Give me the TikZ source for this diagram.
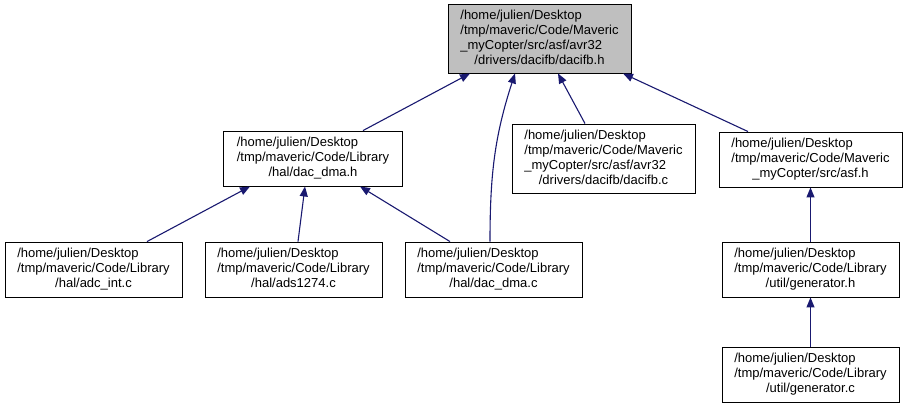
\documentclass[tikz,border=0pt]{standalone}
\usepackage{fontspec}
\setmainfont{Liberation Sans}
\usetikzlibrary{arrows.meta}
\definecolor{edgec}{HTML}{191970}
\definecolor{topfill}{HTML}{BFBFBF}
\newcommand\flines[2]{\begin{tabular}{@{}l@{}}#1\\\multicolumn{1}{@{}c@{}}{#2}\end{tabular}}
\begin{document}
\begin{tikzpicture}[x=1pt,y=1pt,
  box/.style={draw=black, line width=0.9pt, fill=white, inner sep=0pt,
    font=\fontsize{13}{15}\selectfont, minimum height=55pt, minimum width=177pt},
  dep/.style={draw=edgec, line width=1.1pt, -{Triangle[length=10pt,width=8pt]}}]
\useasboundingbox (0,0) rectangle (907,-408);
\node[box, fill=topfill, minimum width=183pt, minimum height=69pt] (top) at (539.5,-38.5)
  {\flines{/home/julien/Desktop\\/tmp/maveric/Code/Maveric\\\_myCopter/src/asf/avr32}{/drivers/dacifb/dacifb.h}};
\node[box, minimum width=179pt] (dmah) at (313,-158.5)
  {\flines{/home/julien/Desktop\\/tmp/maveric/Code/Library}{/hal/dac\_dma.h}};
\node[box, minimum width=183pt, minimum height=69pt] (dacifbc) at (603.5,-158.5)
  {\flines{/home/julien/Desktop\\/tmp/maveric/Code/Maveric\\\_myCopter/src/asf/avr32}{/drivers/dacifb/dacifb.c}};
\node[box, minimum width=183pt] (asfh) at (810.5,-159.5)
  {\flines{/home/julien/Desktop\\/tmp/maveric/Code/Maveric}{\_myCopter/src/asf.h}};
\node[box] (adcint) at (93.5,-269.5)
  {\flines{/home/julien/Desktop\\/tmp/maveric/Code/Library}{/hal/adc\_int.c}};
\node[box] (ads) at (293.5,-269.5)
  {\flines{/home/julien/Desktop\\/tmp/maveric/Code/Library}{/hal/ads1274.c}};
\node[box] (dmac) at (493.5,-269.5)
  {\flines{/home/julien/Desktop\\/tmp/maveric/Code/Library}{/hal/dac\_dma.c}};
\node[box] (genh) at (810.5,-269.5)
  {\flines{/home/julien/Desktop\\/tmp/maveric/Code/Library}{/util/generator.h}};
\node[box] (genc) at (810.5,-374.5)
  {\flines{/home/julien/Desktop\\/tmp/maveric/Code/Library}{/util/generator.c}};
\draw[dep] ([xshift=50pt]dmah.north) -- ([xshift=-69.5pt]top.south);
\draw[dep] ([xshift=-3.5pt]dmac.north) to[out=90,in=-108] ([xshift=-24.5pt]top.south);
\draw[dep] ([xshift=-18.5pt]dacifbc.north) -- ([xshift=18.5pt]top.south);
\draw[dep] ([xshift=-62.5pt]asfh.north) -- ([xshift=83.5pt]top.south);
\draw[dep] ([xshift=53.5pt]adcint.north) -- ([xshift=-63pt]dmah.south);
\draw[dep] ([xshift=4.5pt]ads.north) -- ([xshift=-8pt]dmah.south);
\draw[dep] ([xshift=-43.5pt]dmac.north) -- ([xshift=47pt]dmah.south);
\draw[dep] (genh) -- (asfh);
\draw[dep] (genc) -- (genh);
\end{tikzpicture}
\end{document}
